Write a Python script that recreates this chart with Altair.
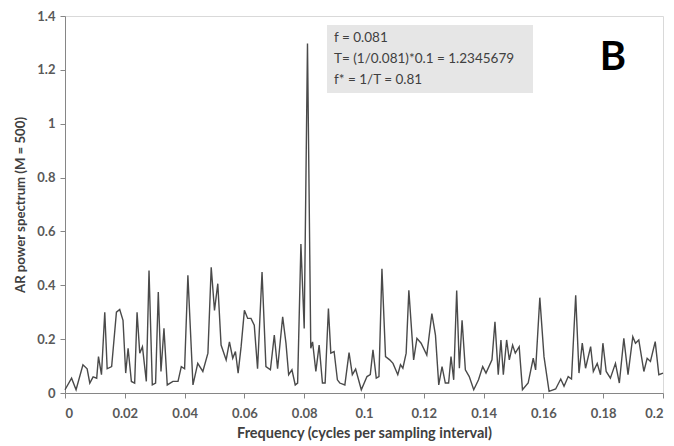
import altair as alt
import pandas as pd

freq = [0.0, 0.0022, 0.0037, 0.006, 0.0074, 0.0083, 0.0094, 0.0106, 0.0112, 0.0122,
        0.0133, 0.0141, 0.0156, 0.0172, 0.0183, 0.0194, 0.0203, 0.0211, 0.0222, 0.0233,
        0.0241, 0.025, 0.0259, 0.0272, 0.0281, 0.0292, 0.0303, 0.0312, 0.0321, 0.0331,
        0.0342, 0.0361, 0.0378, 0.0389, 0.04, 0.0411, 0.0428, 0.0444, 0.0461, 0.0478,
        0.0489, 0.05, 0.0511, 0.0522, 0.0539, 0.055, 0.0561, 0.057, 0.0579, 0.0589,
        0.06, 0.0611, 0.0622, 0.0633, 0.0644, 0.0659, 0.0672, 0.0687, 0.07, 0.0711,
        0.0728, 0.0739, 0.0748, 0.0759, 0.077, 0.0778, 0.0789, 0.08, 0.0811, 0.0822,
        0.0828, 0.0839, 0.085, 0.0861, 0.087, 0.0881, 0.0889, 0.09, 0.0911, 0.0919,
        0.0936, 0.095, 0.0961, 0.0972, 0.0991, 0.101, 0.1021, 0.103, 0.1041, 0.105,
        0.106, 0.1072, 0.1086, 0.1097, 0.1113, 0.1122, 0.113, 0.1141, 0.115, 0.1166,
        0.1177, 0.1191, 0.121, 0.1227, 0.1239, 0.125, 0.1261, 0.1272, 0.1283, 0.1291,
        0.13, 0.131, 0.1319, 0.1328, 0.1339, 0.1352, 0.1367, 0.1383, 0.1397, 0.1408,
        0.1428, 0.1438, 0.1449, 0.1458, 0.1466, 0.1477, 0.1486, 0.1497, 0.1506, 0.1519,
        0.153, 0.1549, 0.1566, 0.1574, 0.1588, 0.1602, 0.1619, 0.1641, 0.1658, 0.1669,
        0.1683, 0.1694, 0.1708, 0.1719, 0.173, 0.1741, 0.1758, 0.1767, 0.178, 0.1791,
        0.1799, 0.181, 0.1824, 0.1841, 0.1854, 0.1869, 0.1883, 0.1899, 0.1908, 0.1919,
        0.1936, 0.1947, 0.1958, 0.1974, 0.1986, 0.2]

power = [0.012, 0.055, 0.012, 0.105, 0.09, 0.037, 0.06, 0.055, 0.135, 0.068,
         0.30, 0.09, 0.098, 0.30, 0.31, 0.27, 0.074, 0.166, 0.043, 0.037,
         0.30, 0.148, 0.172, 0.043, 0.455, 0.03, 0.037, 0.375, 0.08, 0.24,
         0.03, 0.043, 0.043, 0.098, 0.09, 0.437, 0.03, 0.11, 0.08, 0.148,
         0.467, 0.307, 0.406, 0.178, 0.123, 0.19, 0.129, 0.154, 0.074, 0.172,
         0.307, 0.277, 0.277, 0.252, 0.09, 0.449, 0.098, 0.086, 0.215, 0.09,
         0.283, 0.185, 0.068, 0.086, 0.03, 0.037, 0.553, 0.24, 1.298, 0.166,
         0.19, 0.08, 0.178, 0.037, 0.037, 0.314, 0.148, 0.154, 0.049, 0.037,
         0.03, 0.15, 0.068, 0.089, 0.012, 0.061, 0.068, 0.16, 0.055, 0.061,
         0.461, 0.135, 0.123, 0.11, 0.068, 0.105, 0.092, 0.148, 0.381, 0.123,
         0.203, 0.185, 0.141, 0.295, 0.215, 0.03, 0.098, 0.037, 0.037, 0.135,
         0.049, 0.381, 0.092, 0.27, 0.086, 0.061, 0.012, 0.049, 0.098, 0.074,
         0.123, 0.264, 0.068, 0.197, 0.068, 0.197, 0.123, 0.178, 0.148, 0.172,
         0.012, 0.037, 0.129, 0.086, 0.354, 0.135, 0.006, 0.015, 0.052, 0.025,
         0.061, 0.052, 0.363, 0.074, 0.185, 0.092, 0.172, 0.08, 0.11, 0.068,
         0.185, 0.08, 0.055, 0.11, 0.037, 0.203, 0.068, 0.209, 0.185, 0.197,
         0.08, 0.129, 0.117, 0.191, 0.068, 0.074]

x_ticks = [0, 0.02, 0.04, 0.06, 0.08, 0.1, 0.12, 0.14, 0.16, 0.18, 0.2]
y_ticks = [0, 0.2, 0.4, 0.6, 0.8, 1.0, 1.2, 1.4]

note_text = "f = 0.081\nT= (1/0.081)*0.1 = 1.2345679\nf* = 1/T = 0.81"
panel_label = "B"

FONT = "Lato"

df = pd.DataFrame({"freq": freq, "power": power})

line = alt.Chart(df).mark_line(color="#4a4a4a", strokeWidth=1.4).encode(
    x=alt.X("freq:Q", scale=alt.Scale(domain=[0, 0.2], nice=False),
            axis=alt.Axis(values=x_ticks, format=".2~f", grid=False,
                          title="Frequency (cycles per sampling interval)",
                          titleFontSize=14.5, labelPadding=9, titlePadding=6)),
    y=alt.Y("power:Q", scale=alt.Scale(domain=[0, 1.4], nice=False),
            axis=alt.Axis(values=y_ticks, format=".1~f", grid=False,
                          title="AR power spectrum (M = 500)",
                          titleFontSize=13.2, labelPadding=5, titlePadding=9)),
)

box = alt.Chart(pd.DataFrame({"a": [0]})).mark_rect(color="#e6e6e6").encode(
    x=alt.value(262), x2=alt.value(468), y=alt.value(9), y2=alt.value(77)
)

notes = alt.Chart(pd.DataFrame({"t": [note_text]})).mark_text(
    align="left", baseline="top", font=FONT, fontSize=13.5, color="#404040",
    lineBreak="\n", lineHeight=21,
).encode(x=alt.value(269), y=alt.value(15), text="t:N")

big_b = alt.Chart(pd.DataFrame({"t": [panel_label]})).mark_text(
    align="center", baseline="middle", font=FONT, fontSize=40, fontWeight="bold", color="#000000"
).encode(x=alt.value(548), y=alt.value(42), text="t:N")

chart = alt.layer(box, line, notes, big_b).properties(
    width=598, height=377,
    autosize=alt.AutoSizeParams(type="none"),
    padding={"left": 65, "top": 16, "right": 11, "bottom": 53},
).configure_view(stroke="#d9d9d9", strokeWidth=1).configure_axis(
    domainColor="#868686", tickColor="#868686", tickSize=5,
    labelFont=FONT, labelFontSize=13, labelFontWeight="bold", labelColor="#595959",
    titleFont=FONT, titleFontWeight="bold", titleColor="#404040",
)

chart.save("out.html", embed_options={"renderer": "svg", "actions": False})
